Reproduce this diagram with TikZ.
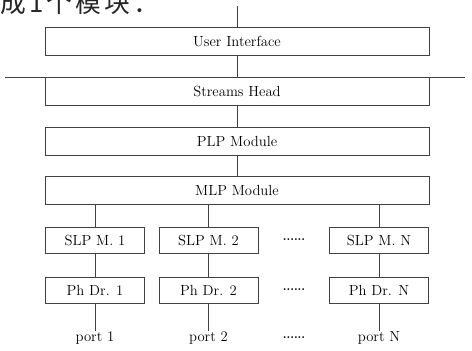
\documentclass[tikz,border=0pt]{standalone}
\usepackage{fontspec}
\newfontfamily\cjk[LetterSpace=12]{Noto Sans CJK SC}
\usepackage{tikz}
\tikzset{>=latex}
\usetikzlibrary{
    positioning, % relative placement
    calc % coordinate sums
}

\begin{document}
\begin{tikzpicture}[x=0.03cm, y=-0.03cm]
    \useasboundingbox (0,0) rectangle (472,350);
    % blocks
    \tikzstyle{layer} = [rectangle, draw=black!75, line width=0.8pt, text=black, text centered,
                         font=\fontsize{12.5}{15}\selectfont, inner sep=0pt,
                         minimum width=11.52cm, minimum height=0.84cm]
    \tikzstyle{unit}  = [layer, minimum width=2.97cm, minimum height=0.78cm]
    \tikzstyle{port}  = [font=\fontsize{12.5}{15}\selectfont, inner sep=0pt]
    \tikzstyle{more}  = [font=\bfseries\fontsize{10}{12}\selectfont, inner sep=0pt]
    \tikzstyle{line}  = [draw=black!75, line width=0.8pt]
    % caption tail at the top edge
    \node[anchor=base west, inner sep=0pt, font=\cjk\fontsize{22}{24}\selectfont, text=black!85]
        (cap) at (0,12) {成1\hspace{3pt}个模块：};
    % stack
    \node[layer] (ui)  at (237, 41.5) {User Interface};
    \node[layer] (sh)  at (237, 91)   {Streams Head};
    \node[layer] (plp) at (237,141.5) {PLP Module};
    \node[layer] (mlp) at (237,190.5) {MLP Module};
    % one column per port
    \node[unit] (slp1) at ( 95,240) {SLP M. 1};
    \node[unit] (slp2) at (208.5,240) {SLP M. 2};
    \node[unit] (slpn) at (379,240) {SLP M. N};
    \node[unit] (ph1)  at ( 95,290) {Ph Dr. 1};
    \node[unit] (ph2)  at (208.5,290) {Ph Dr. 2};
    \node[unit] (phn)  at (379,290) {Ph Dr. N};
    \node[port] (p1) at ( 95,338) {port 1};
    \node[port] (p2) at (208.5,338) {port 2};
    \node[port] (pn) at (379,338) {port N};
    \node[more] (d1) at (294,240) {......};
    \node[more] (d2) at (294,290) {......};
    \node[more] (d3) at (294,338) {......};
    % links
    \coordinate (top) at (237,6);
    \coordinate (cutl) at (5,77);
    \coordinate (cutr) at (465,77);
    \draw[line] (top) -- (ui.north);
    \draw[line] (cutl) -- (cutr);
    \draw[line] (ui) -- (sh) (sh) -- (plp) (plp) -- (mlp);
    \foreach \c in {1,2,n}{
        \draw[line] (mlp.south -| slp\c.north) -- (slp\c.north);
        \draw[line] (slp\c) -- (ph\c);
        \draw[line] (ph\c.south) -- (p\c.north);
    }
\end{tikzpicture}
\end{document}
